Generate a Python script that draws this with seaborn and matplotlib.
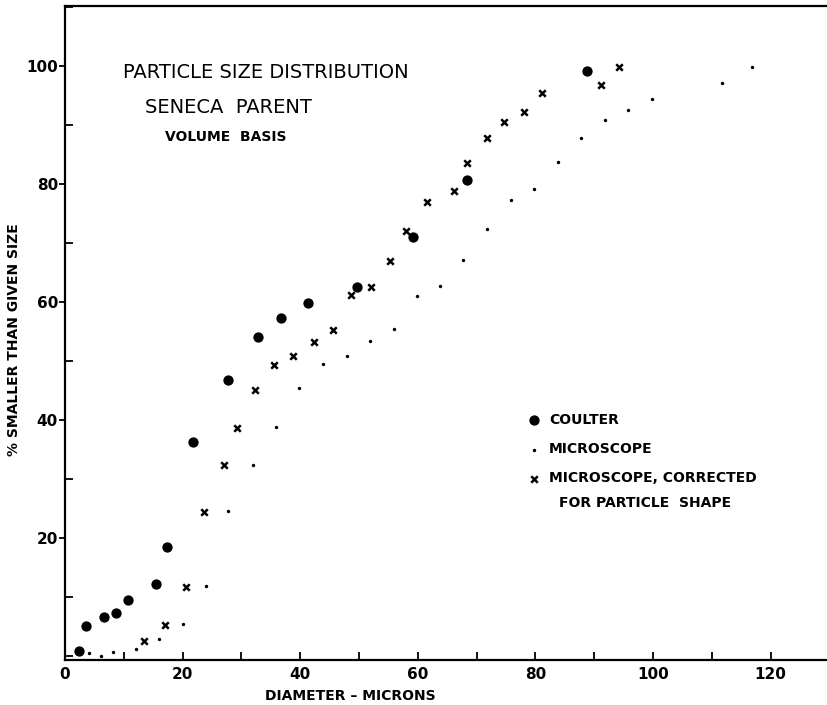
import matplotlib
matplotlib.use('Agg')
import matplotlib.pyplot as plt
import seaborn as sns
from matplotlib.ticker import MultipleLocator

# ========================================
# Data
# ========================================
coulter_x = [2.3, 3.5, 6.7, 8.7, 10.7, 15.4, 17.3, 21.7, 27.7, 32.9, 36.8, 41.3,
             49.6, 59.2, 68.3, 88.8]
coulter_y = [0.9, 5.1, 6.6, 7.2, 9.4, 12.2, 18.4, 36.3, 46.8, 54.0, 57.3, 59.9,
             62.5, 71.1, 80.7, 99.1]

micro_x = [4.0, 6.2, 8.1, 12.1, 16.0, 20.0, 24.0, 27.8, 31.9, 35.9, 39.8, 43.9,
           47.9, 51.9, 55.9, 59.8, 63.8, 67.7, 71.8, 75.9, 79.8, 83.8, 87.8,
           91.8, 95.7, 99.9, 111.7, 116.8]
micro_y = [0.45, 0.0, 0.7, 1.2, 2.8, 5.4, 11.9, 24.6, 32.4, 38.8, 45.4, 49.5,
           50.9, 53.4, 55.5, 61.0, 62.8, 67.2, 72.4, 77.3, 79.2, 83.7, 87.8,
           90.8, 92.6, 94.4, 97.1, 99.9]

corr_x = [13.5, 17.0, 20.5, 23.7, 27.0, 29.2, 32.3, 35.5, 38.8, 42.3, 45.5, 48.7,
          52.0, 55.3, 58.0, 61.6, 66.1, 68.3, 71.7, 74.7, 78.1, 81.2, 91.2, 94.3]
corr_y = [2.5, 5.3, 11.7, 24.4, 32.4, 38.6, 45.1, 49.3, 50.8, 53.3, 55.3, 61.2,
          62.6, 67.0, 72.1, 77.0, 78.9, 83.6, 87.8, 90.6, 92.3, 95.5, 96.8, 99.8]

x_ticks = [0, 20, 40, 60, 80, 100, 120]
x_ticklabels = ['0', '20', '40', '60', '80', '100', '120']
y_ticks = [20, 40, 60, 80, 100]
y_ticklabels = ['20', '40', '60', '80', '100']

sns.set_style('white')
plt.rcParams['font.family'] = ['DejaVu Sans']
plt.rcParams['text.color'] = 'black'
plt.rcParams['axes.labelcolor'] = 'black'
plt.rcParams['xtick.color'] = 'black'
plt.rcParams['ytick.color'] = 'black'

fig = plt.figure(figsize=(8.27, 7.05), dpi=100)
ax = fig.add_axes([0.0786, 0.0638, 0.9214, 0.9277])

# Точки трёх серий
sns.scatterplot(x=coulter_x, y=coulter_y, ax=ax, marker='o', s=55,
                color='black', edgecolor='black', linewidth=0, label='COULTER')
sns.scatterplot(x=micro_x, y=micro_y, ax=ax, marker='o', s=6,
                color='black', edgecolor='black', linewidth=0, label='MICROSCOPE')
sns.scatterplot(x=corr_x, y=corr_y, ax=ax, marker='x', s=22,
                color='black', linewidth=1.8, label='MICROSCOPE, CORRECTED')

ax.set_xlim(0, 129.6)
ax.set_ylim(-0.7, 110.2)

# Оси
for side in ['left', 'bottom', 'top']:
    ax.spines[side].set_visible(True)
    ax.spines[side].set_color('black')
    ax.spines[side].set_linewidth(1.6)
ax.spines['right'].set_visible(False)

ax.set_xticks(x_ticks)
ax.set_xticklabels(x_ticklabels)
ax.set_yticks(y_ticks)
ax.set_yticklabels(y_ticklabels)
ax.xaxis.set_minor_locator(MultipleLocator(10))
ax.yaxis.set_minor_locator(MultipleLocator(10))
ax.tick_params(axis='x', which='both', direction='in', length=6, width=1.3,
               bottom=True, top=False, labelsize=11, pad=5)
ax.tick_params(axis='y', which='major', direction='out', length=4, width=1.3,
               left=True, labelsize=11, pad=1)
ax.tick_params(axis='y', which='minor', direction='in', length=6, width=1.3,
               left=True)
for lbl in ax.get_xticklabels() + ax.get_yticklabels():
    lbl.set_fontweight('bold')

ax.set_xlabel('DIAMETER – MICRONS', fontsize=10, fontweight='bold')
ax.set_ylabel('% SMALLER THAN GIVEN SIZE', fontsize=10, fontweight='bold')
ax.xaxis.set_label_coords(0.374, -0.045)
ax.yaxis.set_label_coords(-0.058, 0.49)

# Подписи
ax.text(9.9, 99.0, 'PARTICLE SIZE DISTRIBUTION', fontsize=14, va='center')
ax.text(13.6, 93.0, 'SENECA  PARENT', fontsize=14, va='center')
ax.text(17.0, 88.0, 'VOLUME  BASIS', fontsize=10, fontweight='bold', va='center')

leg = ax.legend(loc='upper left', bbox_to_anchor=(0.588, 0.397), frameon=False,
                handletextpad=0.5, labelspacing=1.1, handlelength=1.2,
                prop={'size': 10, 'weight': 'bold'})
ax.text(84.0, 25.9, 'FOR PARTICLE  SHAPE', fontsize=10, fontweight='bold',
        va='center')

fig.savefig('out.png', dpi=100)
